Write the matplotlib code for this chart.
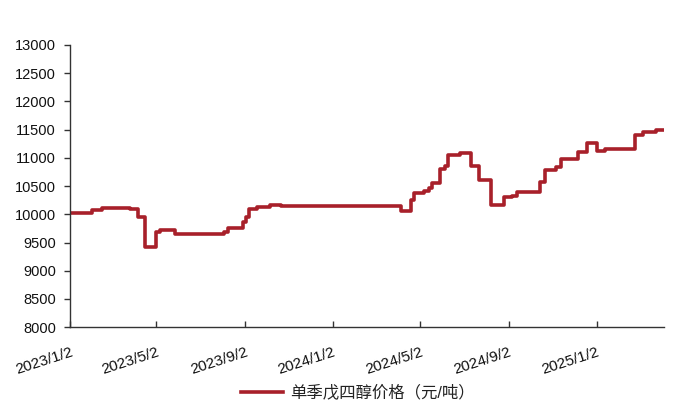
import numpy as np
import pandas as pd
import matplotlib
matplotlib.use("Agg")
import matplotlib.pyplot as plt

plt.rcParams['font.family'] = ['Liberation Sans', 'Noto Sans CJK SC', 'DejaVu Sans']

# change points of the price (step series)
dates = ["2023-01-02", "2023-02-01", "2023-02-15", "2023-03-26", "2023-04-06",
         "2023-04-16", "2023-05-01", "2023-05-07", "2023-05-28", "2023-08-04",
         "2023-08-09", "2023-08-30", "2023-09-03", "2023-09-07", "2023-09-19",
         "2023-10-07", "2023-10-22", "2024-04-06", "2024-04-19", "2024-04-24",
         "2024-05-07", "2024-05-14", "2024-05-18", "2024-05-30", "2024-06-05",
         "2024-06-10", "2024-06-26", "2024-07-11", "2024-07-23", "2024-08-08",
         "2024-08-26", "2024-09-06", "2024-09-14", "2024-10-16", "2024-10-23",
         "2024-11-07", "2024-11-14", "2024-12-07", "2024-12-19", "2025-01-03",
         "2025-01-14", "2025-02-25", "2025-03-08", "2025-03-25", "2025-04-04"]
prices = [10030, 10080, 10120, 10100, 9950,
          9420, 9680, 9720, 9650, 9680,
          9750, 9870, 9950, 10100, 10130,
          10170, 10140, 10050, 10250, 10380,
          10420, 10470, 10550, 10800, 10850,
          11050, 11090, 10860, 10600, 10170,
          10300, 10330, 10400, 10580, 10780,
          10840, 10980, 11110, 11270, 11120,
          11150, 11400, 11460, 11490, 11490]

tick_dates = ["2023-01-02", "2023-05-02", "2023-09-02", "2024-01-02",
              "2024-05-02", "2024-09-02", "2025-01-02"]
tick_labels = ["2023/1/2", "2023/5/2", "2023/9/2", "2024/1/2",
               "2024/5/2", "2024/9/2", "2025/1/2"]
series_name = "单季戊四醇价格（元/吨）"

x = pd.to_datetime(dates)

fig = plt.figure(figsize=(7, 4.2), dpi=100)
ax = fig.add_axes([0.1, 0.221, 0.849, 0.672])

ax.plot(x, prices, drawstyle="steps-post", color="#A8202A", lw=2.6,
        label=series_name)

ax.set_ylim(8000, 13000)
ax.set_yticks(np.arange(8000, 13001, 500))
ax.set_xlim(pd.Timestamp("2023-01-02"), pd.Timestamp("2025-04-06"))
ax.set_xticks(pd.to_datetime(tick_dates))
ax.set_xticklabels(tick_labels, rotation=18, ha="right", va="top",
                   rotation_mode="anchor")
for lab in ax.get_xticklabels():
    lab.set_fontsize(11)

for s in ["top", "right"]:
    ax.spines[s].set_visible(False)
for s in ["left", "bottom"]:
    ax.spines[s].set_color("#333333")
    ax.spines[s].set_linewidth(1.0)

ax.tick_params(axis="y", direction="out", length=4, width=1, colors="#333333",
               labelcolor="#111111", labelsize=10.5, pad=6)
ax.tick_params(axis="x", direction="in", length=4, width=1, colors="#333333",
               labelcolor="#111111", pad=13)

fig.legend(loc="center", bbox_to_anchor=(0.511, 0.064), frameon=False,
           fontsize=11.8, handlelength=2.6, handletextpad=0.4,
           labelcolor="#222222")

fig.savefig("out.png", dpi=100)
